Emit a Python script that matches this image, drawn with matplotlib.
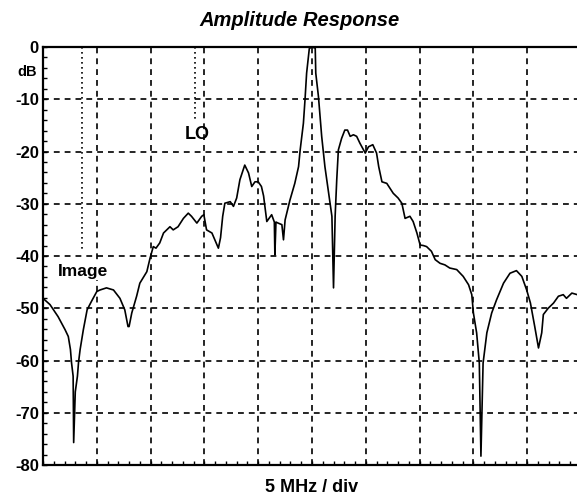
import numpy as np
import matplotlib
matplotlib.use('Agg')
import matplotlib.pyplot as plt

plt.rcParams['font.family'] = ['Liberation Sans', 'DejaVu Sans']

# frequency offset in divisions (5 MHz / div) and amplitude in dB
freq_div = [0.00, 0.13, 0.28, 0.41, 0.47, 0.51, 0.53, 0.56, 0.57, 0.60, 0.64, 0.66, 0.69, 0.75, 0.82,
            0.90, 1.00, 1.06, 1.18, 1.31, 1.43, 1.52, 1.58, 1.60, 1.65, 1.74, 1.80, 1.93, 1.99, 2.05,
            2.10, 2.17, 2.24, 2.36, 2.42, 2.51, 2.61, 2.70, 2.76, 2.86, 2.95, 2.99, 3.04, 3.14, 3.26,
            3.30, 3.34, 3.38, 3.48, 3.54, 3.60, 3.66, 3.75, 3.82, 3.88, 3.94, 4.00, 4.06, 4.10, 4.16,
            4.25, 4.30, 4.31, 4.33, 4.37, 4.44, 4.47, 4.50, 4.59, 4.68, 4.75, 4.78, 4.84, 4.87, 4.90,
            4.95, 4.99, 5.06, 5.07, 5.12, 5.18, 5.24, 5.30, 5.37, 5.40, 5.43, 5.46, 5.49, 5.55, 5.61,
            5.66, 5.71, 5.77, 5.83, 5.89, 5.99, 6.05, 6.13, 6.20, 6.24, 6.30, 6.39, 6.51, 6.60, 6.67,
            6.73, 6.82, 6.88, 6.95, 7.01, 7.07, 7.13, 7.22, 7.29, 7.38, 7.47, 7.56, 7.69, 7.81, 7.91,
            7.97, 8.00, 8.06, 8.11, 8.14, 8.18, 8.25, 8.34, 8.43, 8.56, 8.68, 8.80, 8.90, 8.99, 9.06,
            9.14, 9.21, 9.27, 9.30, 9.39, 9.49, 9.58, 9.67, 9.73, 9.83, 9.93, 10.0]
amp_db = [-48.1, -49.3, -51.6, -54.1, -55.4, -57.9, -60.4, -63.0, -75.7, -66.0, -63.0, -60.4, -57.9, -54.1, -50.3,
          -48.7, -46.8, -46.5, -46.1, -46.5, -48.1, -50.3, -53.5, -53.5, -50.9, -47.7, -45.2, -43.0, -40.4, -38.2,
          -38.5, -37.5, -35.6, -34.4, -35.0, -34.4, -32.8, -31.8, -32.4, -33.7, -32.4, -32.1, -35.0, -35.6, -38.5,
          -36.5, -32.4, -29.9, -29.6, -30.5, -28.9, -25.4, -22.6, -24.1, -26.7, -25.8, -25.8, -26.7, -28.5, -33.4,
          -32.1, -33.5, -39.8, -33.5, -33.7, -34.0, -36.9, -33.1, -29.3, -26.1, -22.9, -19.7, -14.6, -10.1, -5.0,
          -0.3, 0.0, -0.2, -5.0, -9.5, -17.1, -22.9, -27.3, -32.4, -46.1, -32.4, -25.4, -19.7, -17.5, -15.9,
          -15.9, -17.1, -16.8, -17.1, -18.4, -20.3, -19.1, -18.7, -20.3, -22.9, -25.8, -26.1, -28.0, -28.9, -29.9,
          -32.8, -32.4, -33.4, -35.6, -37.9, -38.0, -38.2, -39.1, -40.7, -41.4, -41.7, -42.3, -42.6, -43.9, -45.5,
          -47.4, -50.9, -54.7, -60.5, -78.3, -60.5, -54.7, -50.9, -48.4, -45.2, -43.3, -42.8, -43.9, -46.5, -49.0,
          -53.5, -57.6, -54.7, -51.2, -50.0, -49.0, -47.7, -47.4, -48.1, -47.1, -47.4, -47.6]

# dotted marker lines: position in div and lowest dB
image_x, image_bottom = 0.72, -39.0
lo_x, lo_bottom = 2.83, -14.3

fig = plt.figure(figsize=(5.77, 4.99), dpi=100)
ax = fig.add_axes([43/577, 34/499, 538/577, 418/499])

ax.plot(freq_div, amp_db, color='black', lw=1.2, zorder=3)

ax.set_xlim(0, 10)
ax.set_ylim(-80, 0)
ax.set_xticks(np.arange(0, 11, 1))
ax.set_xticks(np.arange(0, 10.01, 0.2), minor=True)
ax.set_yticks(np.arange(-80, 1, 10))
ax.set_yticks(np.arange(-80, 0.1, 2), minor=True)
ax.set_xticklabels([])
ax.set_yticklabels([str(v) for v in range(-80, 1, 10)], fontweight='bold', fontsize=12)
ax.tick_params(which='both', direction='in', length=3, width=1, pad=3)
ax.tick_params(which='both', top=False, right=False)
ax.grid(True, which='major', color='black', lw=1.2, ls=(0, (3.5, 3)))

for s in ['left', 'bottom', 'top']:
    ax.spines[s].set_linewidth(1.6)
ax.spines['right'].set_visible(False)

ax.plot([image_x, image_x], [0, image_bottom], color='black', lw=1.2, ls=(0, (1, 2)))
ax.plot([lo_x, lo_x], [0, lo_bottom], color='black', lw=1.2, ls=(0, (1, 2)))
ax.text(lo_x + 0.03, -16.8, 'LO', ha='center', va='center', fontweight='bold', fontsize=13)
ax.text(image_x + 0.03, -43.0, 'Image', ha='center', va='center', fontweight='bold', fontsize=12.5,
        bbox=dict(facecolor='white', edgecolor='none', pad=0.5))

fig.text(27/577, 1 - 72/499, 'dB', ha='center', va='center', fontweight='bold', fontsize=10.5)
fig.text(300/577, 1 - 20/499, 'Amplitude Response', ha='center', va='center',
         fontweight='bold', fontstyle='italic', fontsize=14.5)
fig.text(312/577, 1 - 488/499, '5 MHz / div', ha='center', va='center', fontweight='bold', fontsize=13)

fig.savefig('out.png', dpi=100)
